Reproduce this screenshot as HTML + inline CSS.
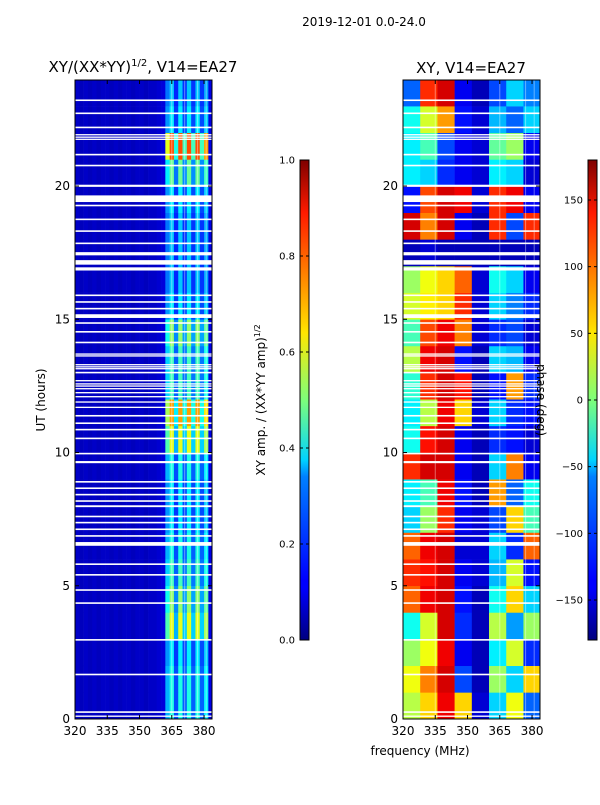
<!DOCTYPE html>
<html><head><meta charset="utf-8">
<style>
body{margin:0;background:#fff;width:600px;height:800px;overflow:hidden;font-family:"Liberation Sans","DejaVu Sans",sans-serif;}
svg text{font-family:"DejaVu Sans","Liberation Sans",sans-serif;fill:#000;}
</style></head>
<body>
<svg id="fig" width="600" height="800" xmlns="http://www.w3.org/2000/svg">
<text x="364" y="26" font-size="12" text-anchor="middle">2019-12-01 0.0-24.0</text>
<text x="143" y="72" font-size="15" text-anchor="middle">XY/(XX*YY)<tspan font-size="10" dy="-6">1/2</tspan><tspan dy="6">, V14=EA27</tspan></text>
<text x="471" y="73" font-size="15" text-anchor="middle">XY, V14=EA27</text>
<g id="leftHeat"></g>
<g id="rightHeat"></g>
<g id="axes"></g>
<text transform="translate(45,400) rotate(-90)" font-size="12" text-anchor="middle">UT (hours)</text>
<text x="420" y="755" font-size="12" text-anchor="middle">frequency (MHz)</text>
<text transform="translate(265,400) rotate(-90)" font-size="12" text-anchor="middle">XY amp. / (XX*YY amp)<tspan font-size="8" dy="-5">1/2</tspan></text>
<text transform="translate(537,400) rotate(90)" font-size="12" text-anchor="middle">phase (deg)</text>
<defs>
<linearGradient id="jet" x1="0" y1="1" x2="0" y2="0">
<stop offset="0" stop-color="#00007f"/><stop offset="0.11" stop-color="#0000ff"/><stop offset="0.125" stop-color="#0000ff"/><stop offset="0.34" stop-color="#0080ff"/><stop offset="0.375" stop-color="#00d4ff"/><stop offset="0.5" stop-color="#7dff7a"/><stop offset="0.64" stop-color="#ffe600"/><stop offset="0.66" stop-color="#ffd400"/><stop offset="0.89" stop-color="#ff1a00"/><stop offset="1" stop-color="#7f0000"/>
</linearGradient>
</defs>
<rect x="300" y="160" width="9" height="480" fill="url(#jet)" stroke="#000" stroke-width="1"/>
<rect x="588" y="160" width="9" height="480" fill="url(#jet)" stroke="#000" stroke-width="1"/>
<g id="cbticks"></g>
</svg>
<script>
// ---- data ----
const ampFreqBins = [320,322,324,326,328,330,332,334,336,338,340,342,344,346,348,350,352,354,356,358,360,362,364,366,368,370,372,374,376,378,380,382];
const ampFreqProfile = [0.07,0.06,0.07,0.06,0.07,0.06,0.07,0.07,0.06,0.07,0.06,0.07,0.07,0.06,0.07,0.07,0.06,0.07,0.07,0.08,0.09,0.3,0.4,0.2,0.4,0.22,0.4,0.22,0.4,0.22,0.36,0.1];
const ampHourProfile = [1.0,1.0,0.9,1.5,1.3,1.1,1.0,0.9,0.9,1.0,1.5,1.8,1.1,1.1,1.3,0.9,0.8,0.8,0.8,0.9,1.2,2.0,0.9,0.8];
const phaseFreqBins = [320,328,336,344,352,360,368,376];
const phaseRows = [
[20,60,140,60,-150,-60,40,-100],
[40,90,150,-110,-160,10,-60,60],
[10,40,140,-140,-160,-50,30,-120],
[-40,30,150,-120,-160,20,-80,10],
[100,140,150,-130,-160,-40,60,-60],
[120,130,150,-140,-150,-70,30,-130],
[100,140,150,-150,-150,-60,-120,100],
[-60,10,120,-140,-150,-110,60,-20],
[-50,-20,140,-130,-160,80,-100,-40],
[120,150,150,-140,-160,-60,90,-140],
[-40,130,150,-140,-160,-120,-130,-150],
[-50,20,140,60,-150,-60,-120,-130],
[-30,120,150,130,-160,-130,80,-120],
[20,140,150,-130,-160,-60,-70,-140],
[-20,110,140,90,-150,-120,-110,-150],
[30,50,60,120,-150,-60,-90,-120],
[10,40,60,100,-150,-40,-60,-140],
[-160,-150,-160,-160,-160,-160,-160,-160],
[150,90,150,-140,-160,120,-110,120],
[-130,110,150,140,-150,120,140,-140],
[-50,-60,-120,-140,-150,-50,-60,-150],
[-50,-20,-110,-140,-150,-10,10,-140],
[-40,30,80,-130,-150,-70,-100,-60],
[-100,120,150,-140,-160,-110,-60,-90]];
const flagStart = [23.19,22.7,22.17,21.9,21.81,21.73,21.15,20.74,19.97,19.4,19.24,18.72,18.28,17.82,17.4,17.05,16.83,15.87,15.62,15.37,15.05,14.83,14.5,14.1,13.67,13.6,13.27,13.19,13.12,12.97,12.67,12.55,12.47,12.37,12.22,12.07,11.87,11.67,11.35,11.07,10.83,10.5,9.93,9.6,8.87,8.63,8.39,8.15,7.95,7.57,7.34,7.09,6.84,6.5,5.78,5.38,4.81,4.32,2.94,1.64,0.23,0.08];
const flagEnd   = [23.25,22.76,22.23,21.95,21.86,21.78,21.21,20.8,20.05,19.65,19.3,18.78,18.34,17.88,17.52,17.22,16.95,15.93,15.68,15.43,15.19,14.89,14.56,14.16,13.72,13.65,13.32,13.24,13.17,13.03,12.72,12.6,12.52,12.42,12.27,12.12,11.92,11.72,11.41,11.13,10.89,10.56,9.99,9.68,8.93,8.69,8.45,8.21,8.02,7.63,7.4,7.15,6.9,6.64,5.84,5.44,4.87,4.38,3.0,1.7,0.29,0.13];
const xTicks = [320,335,350,365,380];
const yTicks = [0,5,10,15,20];
const ampTicks = [0.0,0.2,0.4,0.6,0.8,1.0];
const phaseTicks = [-150,-100,-50,0,50,100,150];

// ---- scales ----
const NS='http://www.w3.org/2000/svg';
const FMIN=320,FMAX=383.7,HMAX=23.98,PW=137,PT=80,PB=719;
function xL(f){return 75+(f-FMIN)/(FMAX-FMIN)*PW;}
function xR(f){return 403+(f-FMIN)/(FMAX-FMIN)*PW;}
function yH(h){return PB-(h/HMAX)*(PB-PT);}
function yAmp(v){return 640-v*480;}
function yPh(v){return 640-(v+180)/360*480;}
function jet(v){v=Math.max(0,Math.min(1,v));
 const r=Math.min(4*v-1.5,-4*v+4.5),g=Math.min(4*v-0.5,-4*v+3.5),b=Math.min(4*v+0.5,-4*v+2.5);
 const c=x=>Math.round(255*Math.max(0,Math.min(1,x)));return `rgb(${c(r)},${c(g)},${c(b)})`;}
function mk(tag,parent,attrs){const e=document.createElementNS(NS,tag);for(const k in attrs)e.setAttribute(k,attrs[k]);parent.appendChild(e);return e;}

// ---- left heatmap ----
const LH=document.getElementById('leftHeat');
for(let h=0;h<ampHourProfile.length;h++){
 for(let i=0;i<ampFreqBins.length;i++){
  const f0=ampFreqBins[i],f1=Math.min(i+1<ampFreqBins.length?ampFreqBins[i+1]:FMAX,FMAX);
  const v=ampFreqProfile[i]>0.15?ampFreqProfile[i]*ampHourProfile[h]:ampFreqProfile[i];
  const r=mk('rect',LH,{x:xL(f0),y:yH(Math.min(h+1,HMAX)),width:xL(f1)-xL(f0)+0.3,height:yH(h)-yH(Math.min(h+1,HMAX))+0.3,fill:jet(v)});
  
  
 }
}
// ---- right heatmap ----
const RH=document.getElementById('rightHeat');
for(let h=0;h<phaseRows.length;h++){
 for(let i=0;i<phaseFreqBins.length;i++){
  const f0=phaseFreqBins[i],f1=Math.min(i+1<phaseFreqBins.length?phaseFreqBins[i+1]:FMAX,FMAX);
  const v=(phaseRows[h][i]+180)/360;
  const r=mk('rect',RH,{x:xR(f0),y:yH(Math.min(h+1,HMAX)),width:xR(f1)-xR(f0)+0.3,height:yH(h)-yH(Math.min(h+1,HMAX))+0.3,fill:jet(v)});
  
  
 }
}
// faint vertical lines
const AX=document.getElementById('axes');
[365,371,377,381].forEach(f=>{
 const a=mk('line',LH,{x1:xL(f),x2:xL(f),y1:PT,y2:PB,stroke:'#fff','stroke-opacity':0.4,'stroke-width':1});
 
 
});
[335,365,377,381].forEach(f=>{
 const a=mk('line',RH,{x1:xR(f),x2:xR(f),y1:PT,y2:PB,stroke:'#fff','stroke-opacity':0.4,'stroke-width':1});
 
 
});
// flagged rows
for(let k=0;k<flagStart.length;k++){
 [[75,LH],[403,RH]].forEach(([x0,g])=>{
  const r=mk('rect',g,{x:x0,y:yH(flagEnd[k]),width:PW,height:Math.max(1.2,yH(flagStart[k])-yH(flagEnd[k])),fill:'#fff'});
  
  
 });
}
// frames and ticks
[[75,xL],[403,xR]].forEach(([x0,sx],p)=>{
 const fr=mk('rect',AX,{x:x0,y:PT,width:PW,height:PB-PT,fill:'none',stroke:'#000','stroke-width':1});
 
 
 xTicks.forEach(t=>{
  const x=sx(t);
  mk('line',AX,{x1:x,x2:x,y1:PB,y2:PB-4,stroke:'#000'});
  mk('line',AX,{x1:x,x2:x,y1:PT,y2:PT+4,stroke:'#000'});
  const tx=mk('text',AX,{x:x,y:PB+16,'font-size':12,'text-anchor':'middle'});
  tx.textContent=t;
  
  
 });
 yTicks.forEach(t=>{
  const y=yH(t);
  mk('line',AX,{x1:x0,x2:x0+4,y1:y,y2:y,stroke:'#000'});
  mk('line',AX,{x1:x0+PW,x2:x0+PW-4,y1:y,y2:y,stroke:'#000'});
  const tx=mk('text',AX,{x:x0-5,y:y+4,'font-size':12,'text-anchor':'end'});
  tx.textContent=t;
  
  
 });
});
const CB=document.getElementById('cbticks');
ampTicks.forEach(t=>{
 const y=yAmp(t);
 mk('line',CB,{x1:300,x2:303,y1:y,y2:y,stroke:'#000'});
 mk('line',CB,{x1:309,x2:306,y1:y,y2:y,stroke:'#000'});
 const tx=mk('text',CB,{x:295,y:y+3.5,'font-size':10,'text-anchor':'end'});
 tx.textContent=t.toFixed(1);
 
 
});
phaseTicks.forEach(t=>{
 const y=yPh(t);
 mk('line',CB,{x1:588,x2:591,y1:y,y2:y,stroke:'#000'});
 mk('line',CB,{x1:597,x2:594,y1:y,y2:y,stroke:'#000'});
 const tx=mk('text',CB,{x:583,y:y+3.5,'font-size':10,'text-anchor':'end'});
 tx.textContent=t<0?'\u2212'+Math.abs(t):String(t);
 
 
});
</script>
</body></html>
